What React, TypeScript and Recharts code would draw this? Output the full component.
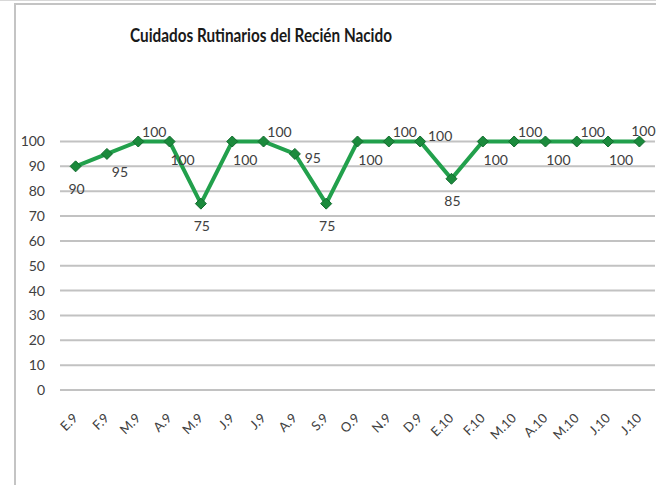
import React from "react";
import { LineChart, Line, XAxis, YAxis, CartesianGrid } from "recharts";

const months = ["E.9", "F.9", "M.9", "A.9", "M.9", "J.9", "J.9", "A.9", "S.9", "O.9", "N.9", "D.9", "E.10", "F.10", "M.10", "A.10", "M.10", "J.10", "J.10"];
const values = [90, 95, 100, 100, 75, 100, 100, 95, 75, 100, 100, 100, 85, 100, 100, 100, 100, 100, 100];
const labelPlacement = ["below", "belowRight", "aboveRight", "belowRight", "below", "belowRight", "aboveRight", "right", "below", "belowRight", "aboveRight", "upRight", "below", "belowRight", "aboveRight", "belowRight", "aboveRight", "belowRight", "aboveEdge"];
const yTicks = [0, 10, 20, 30, 40, 50, 60, 70, 80, 90, 100];
const title = "Cuidados Rutinarios del Recién Nacido";

const data = months.map((m, i) => ({ key: i, month: m, value: values[i] }));

const offsets: Record<string, [number, number]> = {
  below: [1, 22],
  belowRight: [13, 18],
  aboveRight: [16, -10],
  upRight: [20, -6],
  right: [18, 4],
  aboveEdge: [4, -11],
};

const FONT = "Lato, 'Open Sans', sans-serif";
const TXT = "#404040";

const Diamond = (props: any) => {
  const { cx, cy } = props;
  if (cx == null || cy == null) return null;
  const r = 5.5;
  return (
    <polygon
      points={`${cx},${cy - r} ${cx + r},${cy} ${cx},${cy + r} ${cx - r},${cy}`}
      fill="#1b8a3c"
      stroke="#126b2e"
      strokeWidth={1}
    />
  );
};

const ValueLabel = (props: any) => {
  const { x, y, value, index } = props;
  const place = labelPlacement[index] || "below";
  const [dx, dy] = offsets[place];
  return (
    <text x={x + dx} y={y + dy} textAnchor="middle" dominantBaseline="central" fontFamily={FONT} fontSize={14} fill={TXT}>
      {value}
    </text>
  );
};

const XTick = (props: any) => {
  const { x, y, payload } = props;
  const px = x + 3;
  const py = y + 21;
  return (
    <text x={px} y={py} textAnchor="end" transform={`rotate(-45, ${px}, ${py})`} fontFamily={FONT} fontSize={13} fill={TXT}>
      {months[payload.value] ?? payload.value}
    </text>
  );
};

export default function App() {
  return (
    <div style={{ position: "absolute", left: 0, top: 0, width: 656, height: 485, background: "#fff", overflow: "hidden" }}>
      <div style={{ position: "absolute", left: 0, top: 0, width: 656, height: 1, background: "#d8d8d8" }} />
      <div style={{ position: "absolute", left: 14, top: 3, width: 642, height: 2, background: "#c4c4c4" }} />
      <div style={{ position: "absolute", left: 14, top: 3, width: 2, height: 482, background: "#c4c4c4" }} />
      <svg style={{ position: "absolute", left: 0, top: 0 }} width={656} height={60}>
        <text x={261} y={42} textAnchor="middle" fontFamily={FONT} fontWeight={700} fontSize={18.5} fill="#1a1a1a" textLength={262} lengthAdjust="spacingAndGlyphs">
          {title}
        </text>
      </svg>
      <div style={{ position: "absolute", left: 0, top: 0 }}>
        <LineChart width={656} height={485} data={data} margin={{ top: 141.5, right: 1, bottom: 0, left: 10 }}>
          <CartesianGrid horizontal vertical={false} stroke="#c2c2c2" strokeWidth={2} />
          <XAxis
            dataKey="key"
            type="category"
            axisLine={false}
            tickLine={false}
            interval={0}
            tick={<XTick />}
            height={95}
            padding={{ left: 15.6, right: 15.6 }}
          />
          <YAxis
            domain={[0, 100]}
            ticks={yTicks}
            width={50}
            axisLine={false}
            tickLine={false}
            tickSize={0}
            tickMargin={15}
            tick={{ fontFamily: FONT, fontSize: 14, fill: TXT }}
            interval={0}
          />
          <Line
            type="linear"
            dataKey="value"
            stroke="#22a04c"
            strokeWidth={4}
            dot={<Diamond />}
            activeDot={false}
            isAnimationActive={false}
            label={<ValueLabel />}
          />
        </LineChart>
      </div>
    </div>
  );
}
